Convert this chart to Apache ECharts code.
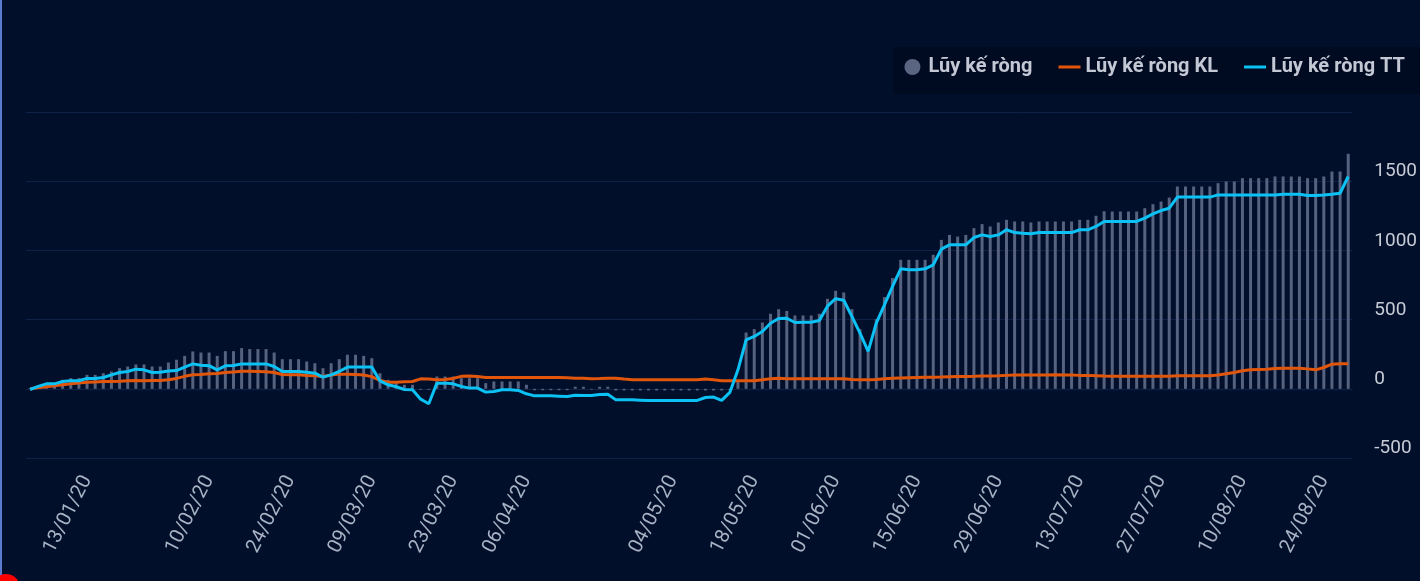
<!DOCTYPE html>
<html>
<head>
<meta charset="utf-8">
<script src="https://cdn.jsdelivr.net/npm/echarts@6/dist/echarts.min.js"></script>
<style>
  html, body { margin: 0; padding: 0; background: #010f2a; }
  #chart { width: 1420px; height: 581px; }
</style>
</head>
<body>
<div id="chart"></div>
<script>
// ngày giao dịch 2020 (đã bỏ cuối tuần, Tết, lễ)
const jan = [2, 3, 6, 7, 8, 9, 10, 13, 14, 15, 16, 17, 20, 21, 22, 30, 31]
const feb = [3, 4, 5, 6, 7, 10, 11, 12, 13, 14, 17, 18, 19, 20, 21, 24, 25, 26, 27, 28]
const mar = [2, 3, 4, 5, 6, 9, 10, 11, 12, 13, 16, 17, 18, 19, 20, 23, 24, 25, 26, 27, 30, 31]
const apr = [1, 3, 6, 7, 8, 9, 10, 13, 14, 15, 16, 17, 20, 21, 22, 23, 24, 27, 28, 29]
const may = [4, 5, 6, 7, 8, 11, 12, 13, 14, 15, 18, 19, 20, 21, 22, 25, 26, 27, 28, 29]
const jun = [1, 2, 3, 4, 5, 8, 9, 10, 11, 12, 15, 16, 17, 18, 19, 22, 23, 24, 25, 26, 29, 30]
const jul = [1, 2, 3, 6, 7, 8, 9, 10, 13, 14, 15, 16, 17, 20, 21, 22, 23, 24, 27, 28, 29, 30, 31]
const aug = [3, 4, 5, 6, 7, 10, 11, 12, 13, 14, 17, 18, 19, 20, 21, 24, 25, 26, 27]

// nhãn trục x được hiển thị
const tickLabels = ['13/01/20', '10/02/20', '24/02/20', '09/03/20', '23/03/20', '06/04/20', '04/05/20',
  '18/05/20', '01/06/20', '15/06/20', '29/06/20', '13/07/20', '27/07/20', '10/08/20', '24/08/20']

// Lũy kế ròng (cột)
const netTotal = [
  5, 12, 29, 41, 65, 77, 77, 101, 101, 113,
  125, 149, 161, 176, 176, 161, 161, 190, 210, 238,
  270, 262, 262, 238, 272, 272, 294, 287, 287, 287,
  262, 214, 214, 214, 197, 185, 149, 185, 214, 246,
  246, 238, 221, 113, 65, 41, 29, 29, -7, -7,
  89, 89, 89, 77, 77, 77, 41, 53, 53, 53,
  53, 29, -10, -10, -10, -10, -10, 15, 15, -5,
  15, 15, -12, -12, -12, -12, -12, -12, -12, -12,
  -12, -12, -12, -12, -12, -12, -10, 50, 407, 431,
  479, 542, 575, 563, 530, 530, 530, 542, 650, 708,
  696, 575, 431, 270, 503, 662, 800, 932, 932, 932,
  932, 968, 1076, 1112, 1100, 1112, 1161, 1190, 1173, 1202,
  1221, 1209, 1209, 1202, 1209, 1209, 1209, 1209, 1209, 1221,
  1221, 1250, 1283, 1281, 1281, 1281, 1281, 1305, 1334, 1353,
  1382, 1462, 1462, 1462, 1462, 1462, 1486, 1498, 1498, 1522,
  1522, 1522, 1522, 1534, 1534, 1534, 1534, 1522, 1522, 1534,
  1570, 1570, 1698
]

// Lũy kế ròng KL
const netKL = [
  0, 8, 15, 22, 30, 36, 42, 47, 50, 52,
  53, 55, 58, 60, 58, 60, 60, 65, 75, 90,
  101, 103, 108, 110, 118, 122, 126, 126, 125, 123,
  118, 103, 101, 101, 96, 94, 89, 99, 106, 106,
  104, 99, 88, 60, 48, 48, 51, 53, 72, 70,
  65, 68, 75, 90, 92, 89, 82, 82, 82, 82,
  82, 82, 82, 82, 82, 82, 80, 77, 76, 72,
  74, 77, 77, 70, 65, 65, 65, 65, 65, 65,
  65, 65, 65, 70, 65, 58, 58, 58, 58, 58,
  66, 72, 77, 72, 72, 72, 72, 72, 72, 72,
  72, 68, 66, 65, 68, 72, 76, 78, 80, 82,
  84, 84, 85, 87, 89, 89, 90, 92, 93, 94,
  97, 99, 99, 99, 100, 100, 101, 100, 99, 97,
  97, 95, 92, 90, 90, 90, 90, 90, 90, 90,
  90, 94, 94, 94, 94, 94, 100, 108, 118, 130,
  137, 140, 142, 147, 149, 149, 149, 144, 137, 154,
  178, 181, 181
]

// Lũy kế ròng TT
const netTT = [
  -5, 17, 36, 36, 53, 58, 58, 75, 75, 82,
  101, 118, 125, 142, 137, 118, 120, 128, 132, 157,
  180, 170, 167, 137, 166, 168, 180, 180, 180, 180,
  161, 125, 125, 125, 120, 113, 84, 101, 125, 157,
  157, 157, 157, 57, 29, 15, -5, -7, -75, -108,
  41, 41, 36, 17, 5, 5, -24, -19, -7, -7,
  -12, -36, -51, -51, -51, -53, -55, -46, -48, -48,
  -41, -39, -80, -80, -80, -82, -84, -84, -84, -84,
  -84, -84, -84, -63, -60, -84, -26, 137, 354, 378,
  414, 474, 508, 510, 479, 481, 481, 493, 597, 651,
  640, 523, 402, 270, 475, 607, 740, 867, 860, 860,
  867, 896, 1009, 1040, 1040, 1040, 1093, 1112, 1100, 1112,
  1149, 1129, 1124, 1120, 1129, 1129, 1129, 1129, 1129, 1149,
  1149, 1173, 1209, 1209, 1209, 1209, 1209, 1233, 1264, 1288,
  1305, 1385, 1385, 1385, 1385, 1385, 1401, 1401, 1401, 1401,
  1401, 1401, 1401, 1401, 1406, 1406, 1406, 1397, 1397, 1401,
  1406, 1413, 1534
]

const pad = (n) => (n < 10 ? '0' + n : '' + n)
const dates = []
;[jan, feb, mar, apr, may, jun, jul, aug].forEach((days, m) => {
  days.forEach((d) => dates.push(pad(d) + '/' + pad(m + 1) + '/20'))
})
const showLabel = (index, value) => tickLabels.indexOf(dates[index]) !== -1

const lineIcon = 'path://M0,0 L22,0 L22,3 L0,3 Z'

const chart = echarts.init(document.getElementById('chart'))
chart.setOption({
  backgroundColor: '#010f2a',
  animation: false,
  legend: {
    right: 0,
    top: 47,
    padding: [10, 15, 17, 11],
    backgroundColor: '#000a21',
    itemWidth: 22,
    itemHeight: 16,
    itemGap: 26,
    textStyle: {
      color: '#c3c8d4',
      fontFamily: 'Roboto, sans-serif',
      fontWeight: 'bold',
      fontSize: 20
    },
    data: [
      { name: 'Lũy kế ròng', icon: 'circle', itemStyle: { color: '#5a6582' } },
      { name: 'Lũy kế ròng KL', icon: lineIcon },
      { name: 'Lũy kế ròng TT', icon: lineIcon }
    ]
  },
  grid: {
    left: 26,
    right: 65,
    top: 112,
    bottom: 123
  },
  xAxis: {
    type: 'category',
    data: dates,
    boundaryGap: true,
    axisLine: { lineStyle: { color: '#0d2149', width: 1 } },
    axisTick: {
      alignWithLabel: true,
      interval: showLabel,
      length: 15,
      lineStyle: { color: '#b7bfcc', width: 1.5 }
    },
    axisLabel: {
      interval: showLabel,
      rotate: 63,
      margin: 19,
      color: '#a9b2c4',
      fontFamily: 'Roboto, sans-serif',
      fontSize: 20
    },
    splitLine: { show: false }
  },
  yAxis: {
    type: 'value',
    position: 'right',
    min: -500,
    max: 2000,
    interval: 500,
    axisLine: { show: false },
    axisTick: { show: false },
    axisLabel: {
      showMaxLabel: false,
      margin: 22,
      verticalAlign: 'bottom',
      color: '#c6cbd6',
      fontFamily: 'Roboto, sans-serif',
      fontSize: 19,
      formatter: (v) => String(v)
    },
    splitLine: { lineStyle: { color: '#0d2149', width: 1 } }
  },
  series: [
    {
      name: 'Lũy kế ròng',
      type: 'bar',
      data: netTotal,
      barWidth: 3,
      itemStyle: { color: '#56627f' }
    },
    {
      name: 'Lũy kế ròng KL',
      type: 'line',
      data: netKL,
      symbol: 'none',
      lineStyle: { color: '#e2560c', width: 3 },
      itemStyle: { color: '#e2560c' }
    },
    {
      name: 'Lũy kế ròng TT',
      type: 'line',
      data: netTT,
      symbol: 'none',
      lineStyle: { color: '#0cc1f4', width: 3 },
      itemStyle: { color: '#0cc1f4' }
    }
  ],
  graphic: [
    { type: 'rect', left: 0, top: 0, shape: { width: 2, height: 581 }, style: { fill: '#5a7bd0' } },
    { type: 'circle', shape: { cx: 6, cy: 588, r: 14 }, style: { fill: '#ff0000' } }
  ]
})
</script>
</body>
</html>
